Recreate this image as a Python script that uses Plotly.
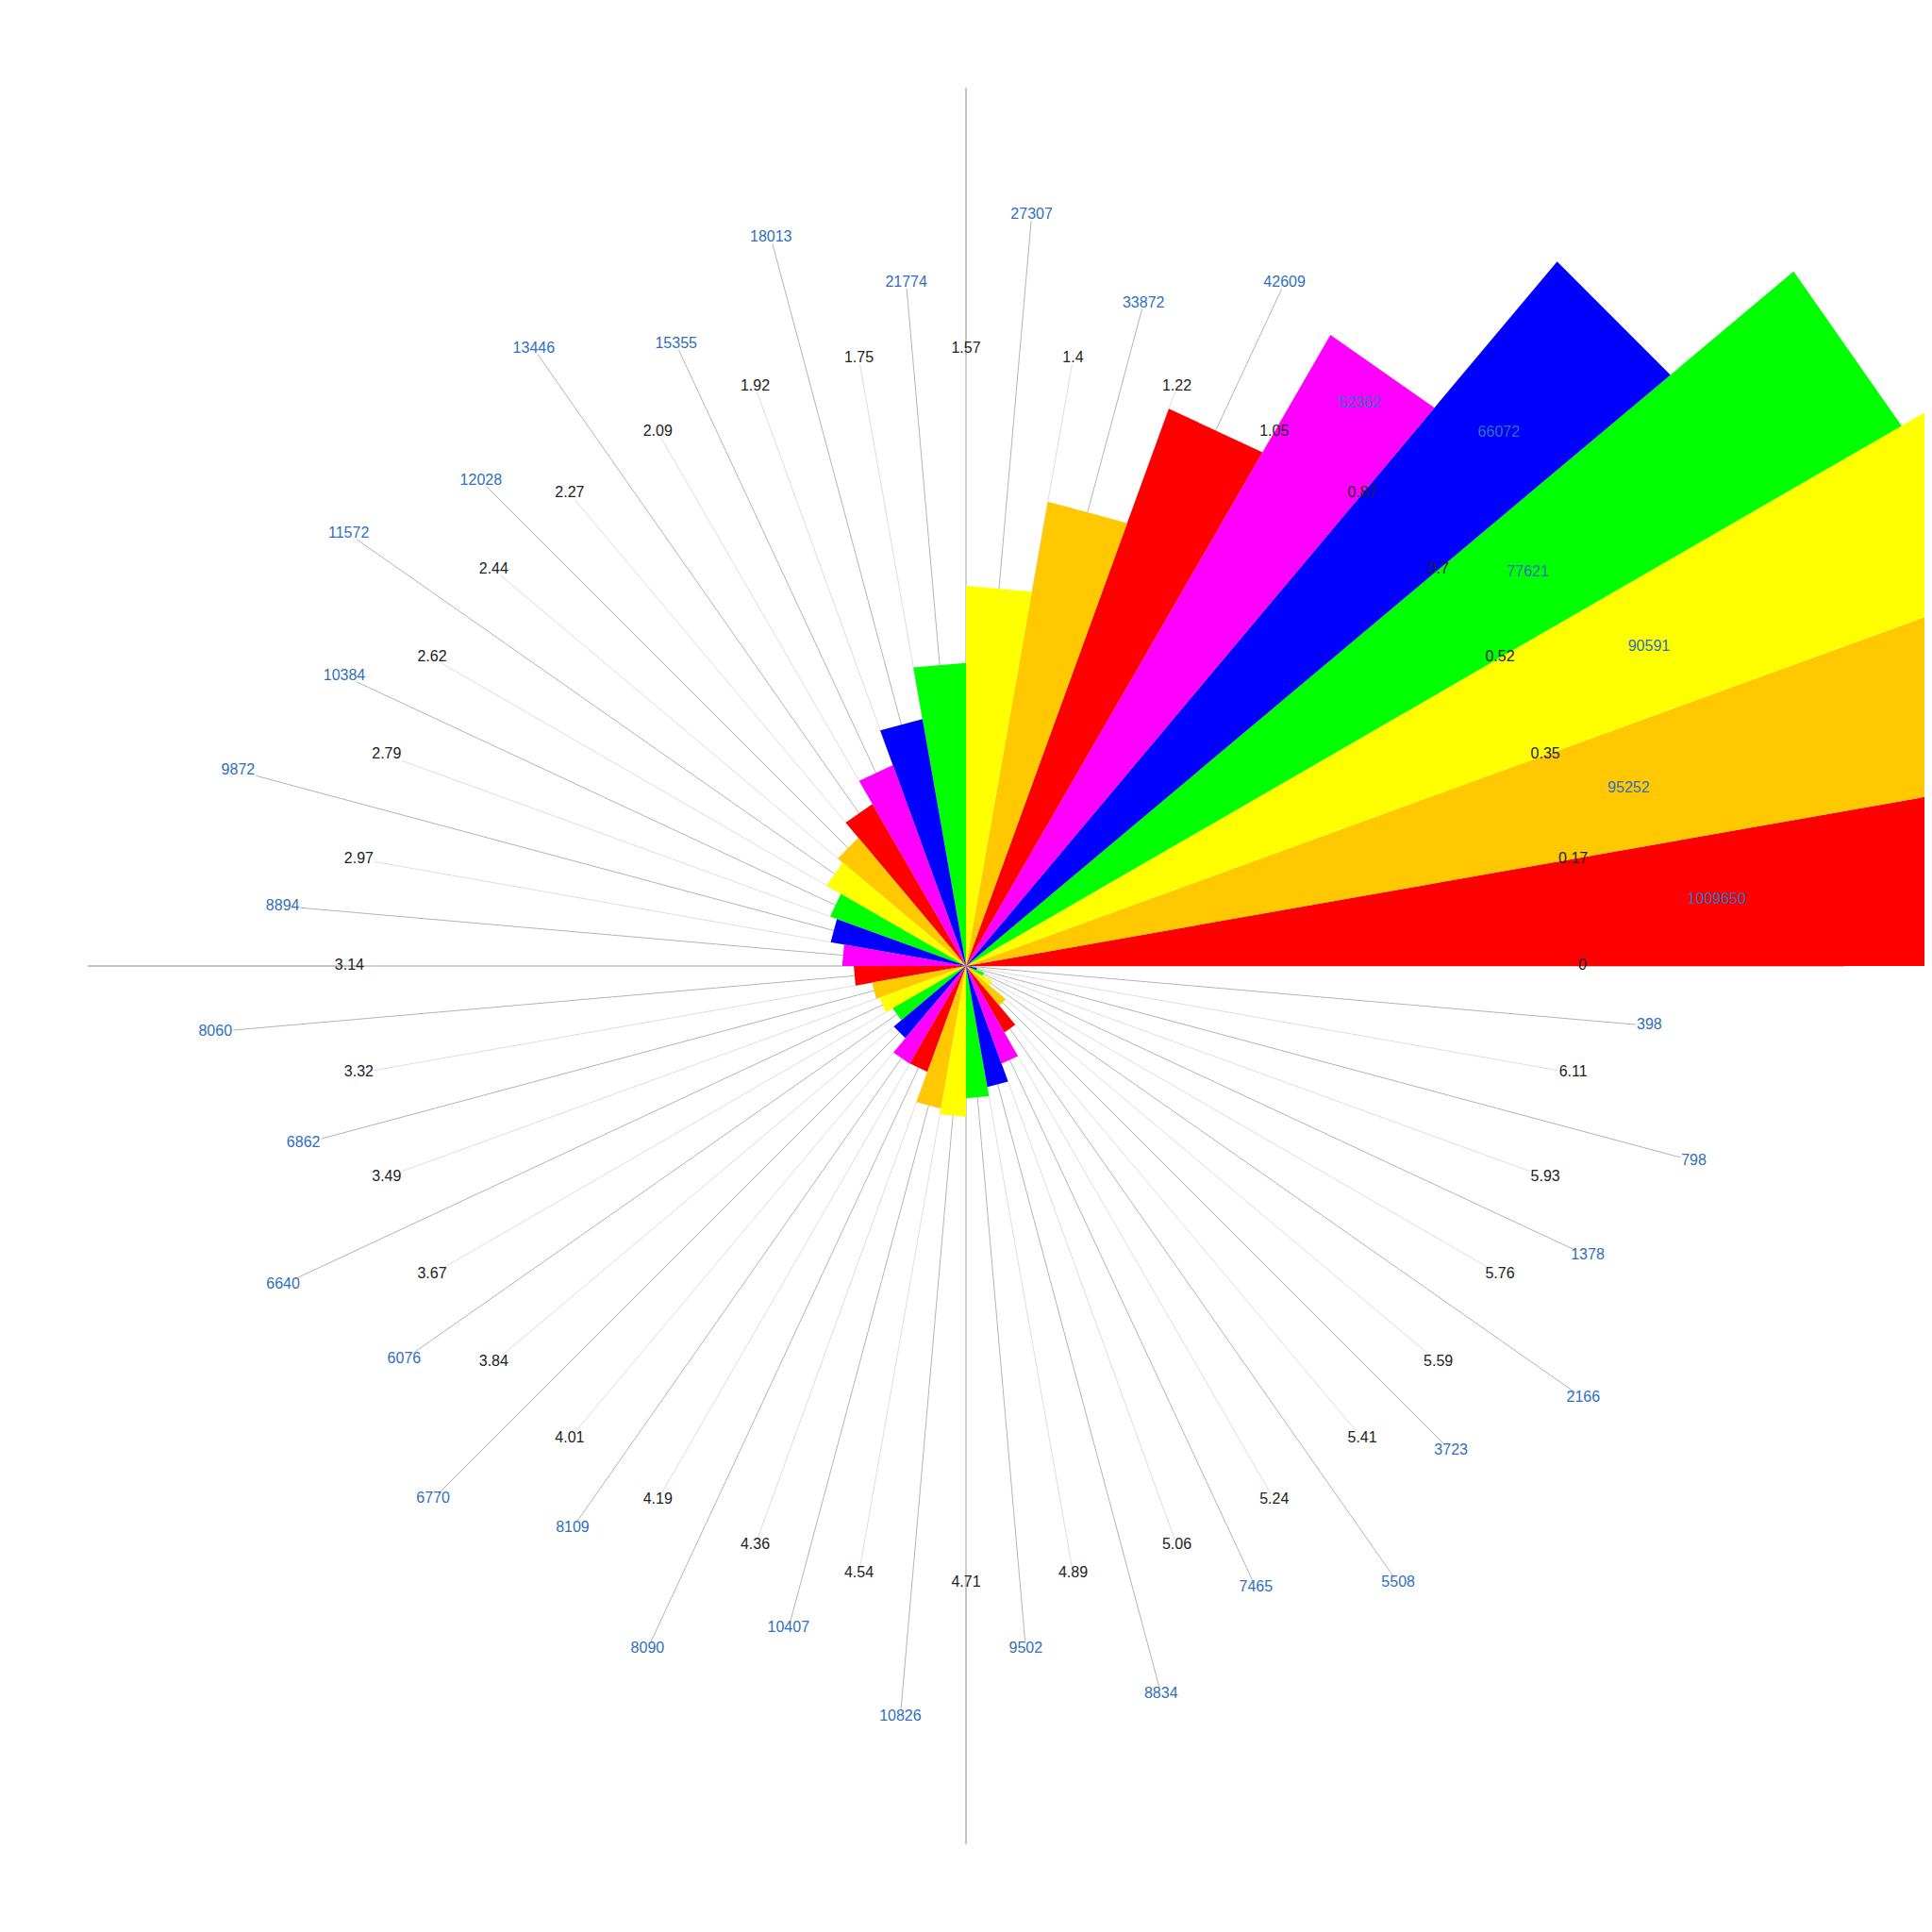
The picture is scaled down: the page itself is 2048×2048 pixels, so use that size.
import math
import plotly.graph_objects as go

# ---- data ----
values = [1009650, 95252, 90591, 77621, 66072, 52362, 42609, 33872, 27307, 21774,
          18013, 15355, 13446, 12028, 11572, 10384, 9872, 8894, 8060, 6862,
          6640, 6076, 6770, 8109, 8090, 10407, 10826, 9502, 8834, 7465,
          5508, 3723, 2166, 1378, 798, 398]
value_labels = [str(v) for v in values]
edge_labels = ["0", "0.17", "0.35", "0.52", "0.7", "0.87", "1.05", "1.22", "1.4", "1.57",
               "1.75", "1.92", "2.09", "2.27", "2.44", "2.62", "2.79", "2.97", "3.14", "3.32",
               "3.49", "3.67", "3.84", "4.01", "4.19", "4.36", "4.54", "4.71", "4.89", "5.06",
               "5.24", "5.41", "5.59", "5.76", "5.93", "6.11"]
palette = ["#ff0000", "#ffc800", "#ffff00", "#00ff00", "#0000ff", "#ff00ff"]

# ---- layout constants ----
W = 2048
CX = 1016.0               # centre in plot pixels (page adds an 8px body margin)
R_PX = 931.0
R_MAX = 63100.0
PX = R_PX / R_MAX          # pixels per data unit
FS = 16
n = len(values)
step = 360.0 / n
centers = [step * i + step / 2 for i in range(n)]
edges = [step * i for i in range(n)]

R_EDGE = 0.702 * R_MAX
R_VAL = [(0.858 if i % 2 == 0 else 0.781) * R_MAX for i in range(n)]


def text_half(s):
    w = sum(0.278 if ch == "." else 0.556 for ch in s) * FS
    return w / 2 + 1, 6.0


def line_end(r, ang, s):
    hw, hh = text_half(s)
    c = abs(math.cos(math.radians(ang)))
    sn = abs(math.sin(math.radians(ang)))
    d = min(hw / c if c > 1e-6 else 1e9, hh / sn if sn > 1e-6 else 1e9)
    return r - d / PX


def spokes(radii, angles, texts):
    rr, tt = [], []
    for r, a, s in zip(radii, angles, texts):
        rr += [0, line_end(r, a, s), None]
        tt += [a, a, None]
    return rr, tt


fig = go.Figure()

# leader lines beneath the bars (polar)
r1, t1 = spokes([R_EDGE] * n, edges, edge_labels)
fig.add_trace(go.Scatterpolar(r=r1, theta=t1, mode="lines", subplot="polar",
                              line=dict(color="#dddddd", width=1), hoverinfo="skip",
                              showlegend=False))
r2, t2 = spokes(R_VAL, centers, value_labels)
fig.add_trace(go.Scatterpolar(r=r2, theta=t2, mode="lines", subplot="polar",
                              line=dict(color="#b4b4b4", width=1), hoverinfo="skip",
                              showlegend=False))

# bars: straight-edged wedges from the centre to (value, edge) and (value, next edge)  (polar2)
for k, col in enumerate(palette):
    rr, tt = [], []
    for i in range(k, n, len(palette)):
        rr += [0, values[i], values[i], None]
        tt += [edges[i], edges[i], edges[i] + step, None]
    fig.add_trace(go.Scatterpolar(r=rr, theta=tt, mode="lines", fill="toself", fillcolor=col,
                                  line=dict(color=col, width=0), subplot="polar2",
                                  hoverinfo="skip", showlegend=False))

# labels on top
fig.add_trace(go.Scatterpolar(r=[R_EDGE] * n, theta=edges, text=edge_labels, mode="text",
                              subplot="polar2", cliponaxis=False,
                              textfont=dict(family="Liberation Sans, Arial", size=FS, color="#222222"),
                              hoverinfo="skip", showlegend=False))
fig.add_trace(go.Scatterpolar(r=R_VAL, theta=centers, text=value_labels, mode="text",
                              subplot="polar2", cliponaxis=False,
                              textfont=dict(family="Liberation Sans, Arial", size=FS, color="#2f6fbd"),
                              hoverinfo="skip", showlegend=False))

dx = [(CX - R_PX) / W, (CX + R_PX) / W]
dy = [(W - CX - R_PX) / W, (W - CX + R_PX) / W]
common_rad = dict(range=[0, R_MAX], showgrid=False, showline=False, showticklabels=False,
                  ticks="", visible=False)
lin_ang = dict(direction="counterclockwise", rotation=0, showticklabels=False,
               ticks="", showline=False, tickmode="linear", tick0=0, dtick=90)

fig.update_layout(
    width=W, height=W,
    margin=dict(l=0, r=0, t=0, b=0),
    paper_bgcolor="white",
    font=dict(family="Liberation Sans, Arial"),
    polar=dict(domain=dict(x=dx, y=dy), bgcolor="white",
               angularaxis=dict(lin_ang, showgrid=True, gridcolor="#888888", gridwidth=1),
               radialaxis=common_rad),
    polar2=dict(domain=dict(x=dx, y=dy), bgcolor="rgba(0,0,0,0)",
                angularaxis=dict(lin_ang, showgrid=False),
                radialaxis=common_rad),
)

# let the long bars run past the polar frame to the page edge, as in the original
unclip = ("var gd=document.getElementById('{plot_id}');"
          "gd.querySelectorAll('.scatterlayer, .scatterlayer *').forEach(function(e){e.removeAttribute('clip-path');});")
fig.write_html("out.html", post_script=unclip)
